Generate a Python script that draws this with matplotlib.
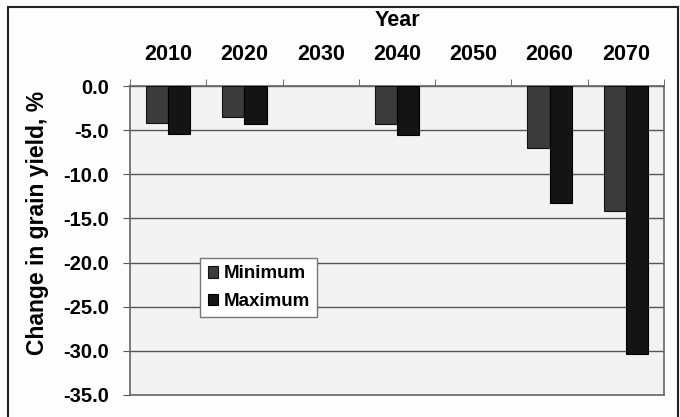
import numpy as np
import matplotlib
matplotlib.use('Agg')
import matplotlib.pyplot as plt
from matplotlib.patches import Rectangle

plt.rcParams['font.family'] = 'Liberation Sans'
plt.rcParams['font.weight'] = 'bold'

years = ['2010', '2020', '2030', '2040', '2050', '2060', '2070']
minimum = [-4.2, -3.5, 0.0, -4.3, 0.0, -7.0, -14.2]
maximum = [-5.4, -4.3, 0.0, -5.6, 0.0, -13.2, -30.4]

fig = plt.figure(figsize=(6.8, 4.17), dpi=100)
fig.patch.set_facecolor('#fdfdfd')

# outer frame around the whole chart
fig.patches.append(Rectangle((8/680, -0.05), 670/680, 1.05 - 7/417, transform=fig.transFigure,
                             fill=False, edgecolor='#222222', lw=1.5))

ax = fig.add_axes([130/680, 1 - 395/417, 534/680, 309/417])
ax.set_facecolor('#f3f3f3')

x = np.arange(len(years))
w = 0.29
b1 = ax.bar(x - w/2, minimum, w, color='#3b3b3b', edgecolor='#111111', lw=0.8, label='Minimum', zorder=3)
b2 = ax.bar(x + w/2, maximum, w, color='#141414', edgecolor='#000000', lw=0.8, label='Maximum', zorder=3)
# no outline for the empty years
for bars, vals in ((b1, minimum), (b2, maximum)):
    for r, v in zip(bars, vals):
        if v == 0:
            r.set_linewidth(0)

ax.set_xlim(-0.5, len(years) - 0.5)
ax.set_ylim(-35, 0)
ax.set_yticks(np.arange(-35, 1, 5))
ax.set_yticklabels(['%.1f' % v for v in np.arange(-35, 1, 5)], fontsize=14.5, fontweight='bold')
ax.yaxis.grid(True, color='#555555', lw=1.0, zorder=1)

# year labels on top, ticks at the category boundaries
ax.xaxis.tick_top()
ax.set_xticks(x)
ax.set_xticklabels(years, fontsize=15.5, fontweight='bold')
ax.set_xticks(np.arange(-0.5, len(years), 1), minor=True)
ax.tick_params(axis='x', which='major', length=0, pad=15)
ax.tick_params(axis='x', which='minor', length=5, color='#555555', direction='out')
ax.tick_params(axis='y', length=5, color='#555555', direction='out', pad=10)

for s in ax.spines.values():
    s.set_color('#666666')
    s.set_linewidth(1.2)

fig.text(397/680, 1 - 21/417, 'Year', ha='center', va='center', fontsize=15.5, fontweight='bold')
fig.text(38/680, 1 - 223/417, 'Change in grain yield, %', rotation=90, ha='center', va='center',
         fontsize=16.5, fontweight='bold')

leg = ax.legend(loc='upper left', bbox_to_anchor=((200-130)/534, (395-258)/309), fontsize=13.5,
                frameon=True, fancybox=False, edgecolor='#777777', facecolor='white', framealpha=1,
                handlelength=0.55, handleheight=0.55, handletextpad=0.3, borderpad=0.4,
                labelspacing=0.55, borderaxespad=0)
leg.get_frame().set_linewidth(1.0)
for t in leg.get_texts():
    t.set_fontweight('bold')

fig.savefig('out.png', dpi=100)
